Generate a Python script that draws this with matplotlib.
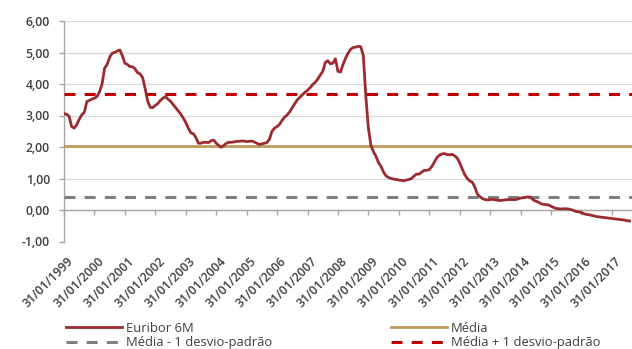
import matplotlib
matplotlib.use("Agg")
import matplotlib.pyplot as plt
import matplotlib.transforms as mtransforms
from matplotlib.lines import Line2D
import numpy as np

plt.rcParams['font.family'] = ['Open Sans', 'DejaVu Sans']

# Euribor a 6 meses, valores mensais (%), de jan/1999 a ago/2017
euribor_1999 = [3.06, 3.04, 2.98, 2.65, 2.60, 2.70, 2.88, 3.02, 3.10, 3.44, 3.48, 3.52]
euribor_2000 = [3.55, 3.60, 3.75, 4.00, 4.50, 4.62, 4.85, 4.98, 5.00, 5.05, 5.08, 4.90]
euribor_2001 = [4.66, 4.62, 4.55, 4.55, 4.48, 4.36, 4.32, 4.20, 3.85, 3.45, 3.26, 3.25]
euribor_2002 = [3.32, 3.38, 3.48, 3.55, 3.60, 3.52, 3.45, 3.35, 3.25, 3.15, 3.05, 2.92]
euribor_2003 = [2.78, 2.60, 2.45, 2.42, 2.30, 2.12, 2.12, 2.15, 2.15, 2.14, 2.20, 2.22]
euribor_2004 = [2.12, 2.05, 1.99, 2.05, 2.12, 2.15, 2.15, 2.16, 2.18, 2.18, 2.19, 2.19]
euribor_2005 = [2.17, 2.18, 2.19, 2.16, 2.12, 2.08, 2.10, 2.12, 2.14, 2.25, 2.50, 2.60]
euribor_2006 = [2.65, 2.72, 2.85, 2.95, 3.02, 3.12, 3.25, 3.38, 3.50, 3.58, 3.66, 3.74]
euribor_2007 = [3.80, 3.88, 3.98, 4.05, 4.15, 4.28, 4.40, 4.68, 4.74, 4.64, 4.66, 4.80]
euribor_2008 = [4.40, 4.38, 4.62, 4.82, 4.98, 5.10, 5.16, 5.17, 5.20, 5.18, 4.90, 3.60]
euribor_2009 = [2.60, 2.05, 1.85, 1.70, 1.50, 1.38, 1.20, 1.08, 1.03, 1.00, 0.98, 0.97]
euribor_2010 = [0.95, 0.94, 0.93, 0.95, 0.97, 1.00, 1.08, 1.14, 1.14, 1.20, 1.26, 1.26]
euribor_2011 = [1.28, 1.38, 1.52, 1.66, 1.74, 1.78, 1.79, 1.76, 1.75, 1.77, 1.72, 1.65]
euribor_2012 = [1.50, 1.30, 1.12, 1.00, 0.92, 0.88, 0.72, 0.50, 0.42, 0.36, 0.33, 0.32]
euribor_2013 = [0.33, 0.34, 0.32, 0.31, 0.30, 0.31, 0.32, 0.33, 0.33, 0.33, 0.33, 0.35]
euribor_2014 = [0.38, 0.39, 0.40, 0.42, 0.40, 0.32, 0.28, 0.25, 0.20, 0.18, 0.17, 0.16]
euribor_2015 = [0.12, 0.08, 0.05, 0.04, 0.03, 0.04, 0.04, 0.03, 0.01, -0.02, -0.05, -0.06]
euribor_2016 = [-0.08, -0.12, -0.14, -0.15, -0.17, -0.19, -0.21, -0.22, -0.23, -0.24, -0.25, -0.26]
euribor_2017 = [-0.27, -0.28, -0.29, -0.30, -0.31, -0.32, -0.34, -0.35]

media = 2.04
desvio_padrao = 1.64

x_labels = ["31/01/%d" % y for y in range(1999, 2018)]
y_ticks = [-1, 0, 1, 2, 3, 4, 5, 6]
y_labels = ["-1,00", "0,00", "1,00", "2,00", "3,00", "4,00", "5,00", "6,00"]

euribor = (euribor_1999 + euribor_2000 + euribor_2001 + euribor_2002 + euribor_2003
           + euribor_2004 + euribor_2005 + euribor_2006 + euribor_2007 + euribor_2008
           + euribor_2009 + euribor_2010 + euribor_2011 + euribor_2012 + euribor_2013
           + euribor_2014 + euribor_2015 + euribor_2016 + euribor_2017)
t = np.arange(len(euribor)) / 12.0

c_eur = '#9b2b2f'
c_media = '#bf9c5e'
c_sup = '#c00000'
c_inf = '#7f7f7f'
c_axis = '#a6a6a6'
c_text = '#404040'

fig = plt.figure(figsize=(6.32, 3.49), dpi=100)
ax = fig.add_axes([64 / 632, 1 - 241.5 / 349, 1 - 64 / 632, (241.5 - 21) / 349])

dash = (3.6, 3.0)
ax.axhline(media, color=c_media, lw=2.0, zorder=3)
ax.axhline(media + desvio_padrao, color=c_sup, lw=2.2, dashes=dash, zorder=3)
ax.axhline(media - desvio_padrao, color=c_inf, lw=2.2, dashes=dash, zorder=3)
ax.plot(t, euribor, color=c_eur, lw=2.0, zorder=4, solid_joinstyle='round')

ax.set_xlim(0, 18.66)
ax.set_ylim(-1, 6)

ax.set_yticks(y_ticks)
ax.set_yticklabels(y_labels)
ax.set_xticks(np.arange(len(x_labels)))
ax.set_xticklabels(x_labels)

for s in ['top', 'right']:
    ax.spines[s].set_visible(False)
ax.spines['bottom'].set_position(('data', 0))
ax.spines['bottom'].set_color(c_axis)
ax.spines['left'].set_color(c_axis)
ax.spines['bottom'].set_linewidth(1.0)
ax.spines['left'].set_linewidth(1.0)

ax.yaxis.grid(True, color='#d9d9d9', lw=0.9)
ax.set_axisbelow(True)

ax.tick_params(axis='y', direction='out', length=3.6, width=1.0, color=c_axis,
               pad=6.5, labelsize=8.8, labelcolor=c_text)
ax.tick_params(axis='x', direction='out', length=3.6, width=1.0, color=c_axis,
               pad=28.8, labelsize=8.8, labelcolor=c_text)

shift = mtransforms.ScaledTranslation(3 / 100, 0, fig.dpi_scale_trans)
for lab in ax.get_xticklabels():
    lab.set_rotation(45)
    lab.set_ha('right')
    lab.set_va('top')
    lab.set_rotation_mode('anchor')
    lab.set_transform(lab.get_transform() + shift)
for lab in ax.get_yticklabels() + ax.get_xticklabels():
    lab.set_fontweight('semibold')

h_eur = Line2D([], [], color=c_eur, lw=2.0)
h_media = Line2D([], [], color=c_media, lw=2.0)
h_inf = Line2D([], [], color=c_inf, lw=2.2, dashes=dash)
h_sup = Line2D([], [], color=c_sup, lw=2.2, dashes=dash)

leg_kw = dict(loc='upper left', frameon=False, fontsize=9.4, handlelength=4.3,
              handletextpad=0.3, labelspacing=0.15, borderpad=0, borderaxespad=0,
              labelcolor=c_text)
fig.legend([h_eur, h_inf], ['Euribor 6M', 'Média - 1 desvio-padrão'],
           bbox_to_anchor=(66 / 632, 1 - 321.5 / 349), **leg_kw)
fig.legend([h_media, h_sup], ['Média', 'Média + 1 desvio-padrão'],
           bbox_to_anchor=(391 / 632, 1 - 321.5 / 349), **leg_kw)

fig.savefig('out.png', dpi=100)
